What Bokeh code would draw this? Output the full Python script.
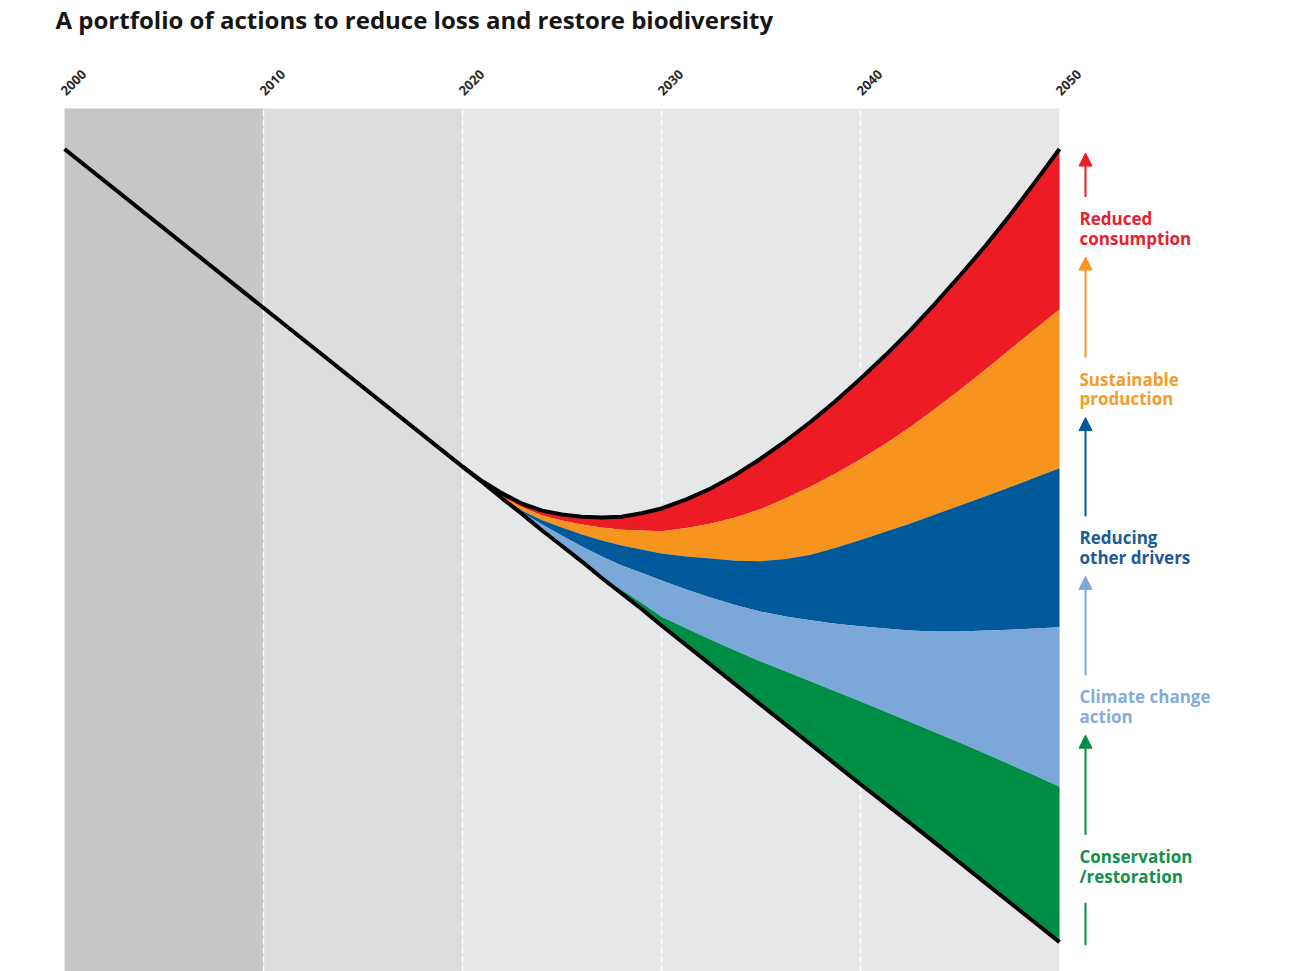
from math import pi
from bokeh.plotting import figure
from bokeh.models import Range1d, Arrow, NormalHead
from bokeh.core.properties import value
from bokeh.embed import file_html
from bokeh.resources import INLINE

# ---------------- data (biodiversity index, arbitrary units 0-100) ----------------
title_text = "A portfolio of actions to reduce loss and restore biodiversity"
tick_years = [2000, 2010, 2020, 2030, 2040, 2050]
tick_labels = ["2000", "2010", "2020", "2030", "2040", "2050"]
grid_years = [2010, 2020, 2030, 2040]

period_starts = [2000, 2010, 2020]
period_ends = [2010, 2020, 2050]
period_colors = ["#c5c6c8", "#dcdddf", "#e6e7e8"]

start_year = 2000
start_value = 95.3

proj_years = [2020, 2021, 2022, 2023, 2024, 2025, 2026, 2027, 2028, 2029, 2030,
              2031.25, 2032.5, 2033.75, 2035, 2036.25, 2037.5, 2038.75, 2040,
              2041.25, 2042.5, 2043.75, 2045, 2046.25, 2047.5, 2048.75, 2050]

# business-as-usual trend (lower black line)
trend = [58.5, 56.7, 54.8, 53.0, 51.1, 49.3, 47.5, 45.6, 43.8, 42.0, 40.1,
         37.8, 35.5, 33.2, 30.9, 28.6, 26.3, 24.0, 21.7,
         19.45, 17.2, 14.9, 12.6, 10.3, 8.0, 5.7, 3.4]
# cumulative upper edges of each action band
conservation = [58.5, 56.7, 54.8, 53.0, 51.1, 49.3, 47.5, 45.6, 44.2, 42.7, 41.1,
                39.75, 38.4, 37.15, 35.9, 34.75, 33.6, 32.45, 31.3,
                30.1, 28.9, 27.7, 26.5, 25.25, 24.0, 22.7, 21.4]
climate = [58.5, 56.7, 54.85, 53.2, 51.8, 50.5, 49.25, 48.1, 47.05, 46.2, 45.3,
           44.25, 43.3, 42.45, 41.7, 41.15, 40.7, 40.3, 40.0,
           39.75, 39.5, 39.4, 39.4, 39.5, 39.6, 39.75, 39.9]
drivers = [58.5, 56.7, 54.9, 53.4, 52.3, 51.45, 50.65, 49.95, 49.35, 48.9, 48.45,
           48.1, 47.85, 47.6, 47.55, 47.8, 48.3, 49.1, 50.0,
           50.95, 51.9, 52.95, 54.0, 55.05, 56.1, 57.2, 58.3]
production = [58.5, 56.7, 55.0, 53.8, 52.85, 52.25, 51.8, 51.45, 51.2, 51.1, 51.0,
              51.4, 51.9, 52.65, 53.6, 54.85, 56.2, 57.7, 59.35,
              61.15, 63.1, 65.2, 67.4, 69.7, 72.05, 74.4, 76.7]
consumption = [58.5, 56.8, 55.4, 54.2, 53.4, 52.95, 52.7, 52.6, 52.7, 53.1, 53.65,
               54.7, 56.0, 57.6, 59.45, 61.5, 63.7, 66.1, 68.7,
               71.4, 74.3, 77.4, 80.65, 84.0, 87.6, 91.4, 95.3]

band_names = ["Reduced\nconsumption", "Sustainable\nproduction", "Reducing\nother drivers",
              "Climate change\naction", "Conservation\n/restoration"]
band_uppers = [consumption, production, drivers, climate, conservation]
band_lowers = [production, drivers, climate, conservation, trend]
band_colors = ["#ed1c24", "#f7941d", "#005a9a", "#7ba7d9", "#008e47"]
label_colors = ["#e8202e", "#f59b2a", "#1d5a95", "#86abdc", "#13904c"]

# ---------------- layout ----------------
W, H = 1304, 971
PXY = 19.9     # pixels per year
PXV = 8.63     # pixels per index unit
x0 = 2000 - 64 / PXY
y_top = 100    # chart top

p = figure(width=W, height=H, output_backend="svg", toolbar_location=None,
           x_range=Range1d(x0, x0 + W / PXY), y_range=Range1d(0, H / PXV),
           x_axis_location=None, y_axis_location=None, min_border=0,
           outline_line_color=None, background_fill_color="white",
           border_fill_color="white")
p.xgrid.visible = False
p.ygrid.visible = False

# background periods
p.quad(left=period_starts, right=period_ends, bottom=0, top=y_top,
       fill_color=period_colors, line_color=None)
p.segment(x0=grid_years, y0=0, x1=grid_years, y1=y_top,
          line_color="white", line_width=1.5, line_dash="6 3")

# bands
for up, lo, c in zip(band_uppers, band_lowers, band_colors):
    p.varea(x=proj_years, y1=lo, y2=up, fill_color=c)

# black lines
p.line([start_year] + proj_years, [start_value] + trend, line_color="black",
       line_width=4, line_join="round")
p.line(proj_years, consumption, line_color="black", line_width=4, line_join="round")

# year labels
p.text(x=tick_years, y=y_top + 26 / PXV, text=tick_labels, angle=pi / 4,
       x_offset=9, text_align="center", text_baseline="middle",
       text_font=value("Noto Sans"), text_font_style="bold",
       text_font_size="13px", text_color="#2a2a2a")

# title
p.text(x=[2000], y=[y_top + 89 / PXV], text=[title_text], x_offset=-9,
       text_align="left", text_baseline="alphabetic",
       text_font=value("Open Sans"), text_font_style="bold",
       text_font_size="24px", text_color="#151515")

# right-hand labels and arrows
tops = [b[-1] for b in band_uppers]
lab_x = 2050 + 20 / PXY
arr_x = 2050 + 26 / PXY
p.text(x=[lab_x] * 5, y=[t - 58 / PXV for t in tops], text=band_names,
       text_align="left", text_baseline="top", text_line_height=0.86,
       text_font=value("Open Sans"), text_font_style="bold", text_font_size="17px",
       text_color=label_colors)

for i, c in enumerate(band_colors):
    tail = tops[i] - 48 / PXV
    tip = tops[i] - 4 / PXV if i == 0 else tops[i - 1] - 108 / PXV
    p.add_layout(Arrow(x_start=arr_x, y_start=tail, x_end=arr_x, y_end=tip,
                       line_color=c, line_width=2,
                       end=NormalHead(size=13, fill_color=c, line_color=c, line_width=1)))
p.segment(x0=[arr_x], y0=[tops[-1] - 116 / PXV], x1=[arr_x], y1=[trend[-1] - 3 / PXV],
          line_color=band_colors[-1], line_width=2)

open("out.html", "w").write(file_html(p, INLINE))
